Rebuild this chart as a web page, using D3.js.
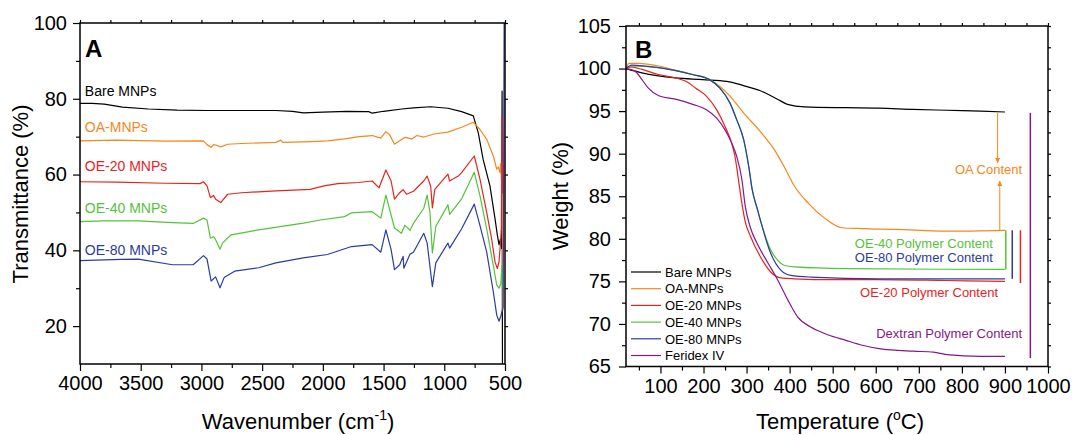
<!DOCTYPE html>
<html>
<head>
<meta charset="utf-8">
<script src="https://cdn.jsdelivr.net/npm/d3@7"></script>
<style>
body { margin: 0; background: #fff; }
text { font-family: "Liberation Sans", Arial, sans-serif; }
.tick line { stroke: #000; stroke-width: 1.2px; }
.domain { display: none; }
</style>
</head>
<body>
<script>
// ---- data: FTIR (wavenumber cm-1, transmittance %) ----
var ftirBare = [[4000,78.8],[3900,78.8],[3800,78.6],[3650,77.8],[3436,77.3],[3200,77.0],[2954,76.9],[2700,76.9],[2387,76.9],[2250,76.7],[2161,76.3],[2000,76.5],[1800,76.7],[1650,76.6],[1622,76.6],[1594,76.2],[1500,76.7],[1350,77.3],[1254,77.6],[1112,77.9],[970,77.5],[857,76.6],[761,75.5],[720,71],[680,64],[624,57],[582,48.3],[563,44],[549,41.5],[537,43],[528,40.5],[524,82],[521,10]];
var ftirOA = [[4000,68.9],[3700,69.1],[3300,68.8],[2983,68.9],[2954,67.9],[2920,67.2],[2900,67.9],[2883,67.8],[2841,67.3],[2784,68.0],[2670,68.2],[2387,68.5],[2345,69.1],[2330,68.5],[2100,68.7],[1962,68.9],[1821,69.4],[1700,70.0],[1594,70.3],[1523,69.6],[1481,71.3],[1452,70.6],[1410,68.0],[1367,68.9],[1325,69.8],[1268,69.4],[1226,70.3],[1169,69.9],[1084,70.7],[970,71.2],[857,72.5],[761,73.8],[706,71.9],[651,69.3],[596,64.9],[568,61.4],[555,62],[541,60.5],[535,62.9],[527,57],[522,63],[518,24]];
var ftirOE20 = [[4000,58.1],[3700,58.0],[3300,57.7],[3011,57.6],[2983,58.1],[2954,57.0],[2926,53.9],[2900,54.5],[2883,53.5],[2841,52.6],[2784,54.8],[2670,55.2],[2387,55.7],[2104,56.1],[1990,57.0],[1877,57.6],[1707,57.9],[1594,58.3],[1537,56.5],[1481,61.2],[1438,58.3],[1410,53.5],[1367,55.2],[1339,56.0],[1311,54.8],[1254,55.6],[1169,58.3],[1141,59.6],[1112,56.9],[1098,51.2],[1078,56.1],[970,60.1],[956,58.3],[885,59.6],[857,60.5],[753,64.9],[706,58.8],[651,50],[610,43],[582,36.9],[563,35.2],[549,37],[535,43],[530,46],[524,75.4],[521,55]];
var ftirOE40 = [[4000,47.6],[3804,47.8],[3521,47.8],[3238,47.3],[3068,47.1],[2983,48.5],[2954,48.0],[2926,43.2],[2900,43.6],[2883,42.8],[2847,40.3],[2827,41.9],[2756,44.1],[2529,45.4],[2161,47.2],[2020,48.0],[1821,48.9],[1764,49.9],[1594,50.2],[1523,48.5],[1481,54.6],[1452,51.0],[1410,45.9],[1353,44.5],[1325,46.6],[1282,45.3],[1254,47.1],[1169,51.1],[1141,54.6],[1118,50.0],[1098,39.3],[1070,46.3],[970,52.0],[956,49.5],[857,53.6],[753,60.6],[706,54.4],[651,45.7],[596,36],[568,30.8],[549,30],[535,31.2],[525,36],[520,30]];
var ftirOE80 = [[4000,37.3],[3663,37.6],[3521,37.7],[3238,36.2],[3068,36.2],[2983,38.6],[2954,37.7],[2920,31.9],[2883,33.0],[2847,30.1],[2813,32.8],[2727,34.5],[2529,35.4],[2387,36.7],[2161,38.0],[1962,38.9],[1764,41.0],[1594,41.5],[1523,39.5],[1481,45.4],[1438,40.2],[1410,34.9],[1367,36.2],[1339,38.4],[1333,35.3],[1282,39.0],[1254,39.5],[1169,44.5],[1141,41.9],[1098,30.4],[1070,36.7],[970,41.9],[956,40.6],[857,45.7],[753,52.2],[706,46.5],[651,39.6],[596,29],[568,22.9],[549,21.3],[535,22.6],[515,25],[507,100]];

// ---- data: TGA (temperature C, weight %) ----
var tgaBare = [[20,100],[57,99.5],[135,98.9],[198,98.7],[254,98.5],[293,98.0],[332,97.4],[372,96.4],[395,95.8],[435,95.5],[529,95.4],[608,95.35],[687,95.2],[765,95.1],[844,95.0],[900,94.9]];
var tgaOA = [[20,100],[27,100.6],[49,100.6],[96,100.3],[135,99.8],[174,99.3],[214,98.7],[238,97.9],[261,96.8],[293,94.8],[332,92.6],[364,90.5],[387,88.5],[411,86.2],[443,84.2],[482,82.4],[521,81.3],[569,81.2],[647,81.1],[765,80.9],[900,81.0]];
var tgaOE20 = [[20,100],[33,100.2],[57,99.9],[96,99.3],[135,98.9],[159,98.5],[182,97.7],[206,96.8],[230,95.2],[250,93.2],[265,91.3],[273,89.7],[281,87.0],[289,84.2],[297,82.0],[309,80.3],[332,77.9],[356,76.1],[380,75.4],[411,75.3],[500,75.2],[600,75.2],[765,75.1],[900,75.0]];
var tgaOE40 = [[20,100],[33,100.3],[96,100.1],[174,99.3],[214,98.7],[238,97.7],[261,96.0],[277,94.0],[293,91.7],[305,88.5],[313,85.8],[325,83.5],[332,82.2],[356,78.7],[372,77.5],[387,76.9],[411,76.7],[529,76.5],[900,76.4]];
var tgaOE80 = [[20,100],[33,100.4],[96,100.1],[174,99.3],[214,98.7],[238,97.7],[261,96.0],[277,94.0],[293,91.7],[305,88.5],[313,85.8],[325,83.5],[332,82.2],[356,78.3],[380,76.3],[403,75.7],[450,75.5],[608,75.3],[900,75.3]];
var tgaFeridex = [[20,100],[41,99.7],[57,98.7],[72,97.7],[96,96.8],[135,96.4],[175,95.8],[206,95.2],[230,94.2],[250,92.8],[265,91.3],[277,89.7],[289,87.0],[297,83.8],[309,81.3],[324,79.5],[348,77.3],[372,75.2],[396,72.8],[419,70.8],[450,69.6],[490,68.7],[529,68.1],[569,67.5],[608,67.1],[687,66.8],[734,66.7],[765,66.4],[844,66.2],[900,66.2]];

var seriesNames = ["Bare MNPs", "OA-MNPs", "OE-20 MNPs", "OE-40 MNPs", "OE-80 MNPs", "Feridex IV"];
var seriesColors = ["#000000", "#f7861c", "#e8231f", "#55c23a", "#2b3c9f", "#86178b"];

// ticks
var wavenumberTicks = [4000, 3500, 3000, 2500, 2000, 1500, 1000, 500];
var wavenumberMinor = [3750, 3250, 2750, 2250, 1750, 1250, 750];
var transTicks = [20, 40, 60, 80, 100];
var transMinor = [30, 50, 70, 90];
var tempTicks = [100, 200, 300, 400, 500, 600, 700, 800, 900, 1000];
var tempMinor = [50, 150, 250, 350, 450, 550, 650, 750, 850, 950];
var weightTicks = [65, 70, 75, 80, 85, 90, 95, 100, 105];
var weightMinor = [67.5, 72.5, 77.5, 82.5, 87.5, 92.5, 97.5, 102.5];

var svg = d3.select("body").append("svg")
    .attr("width", 1072)
    .attr("height", 435);

var defs = svg.append("defs");
defs.append("marker")
    .attr("id", "arrowOA")
    .attr("viewBox", "0 0 10 10")
    .attr("refX", 10).attr("refY", 5)
    .attr("markerWidth", 5).attr("markerHeight", 6)
    .attr("markerUnits", "userSpaceOnUse")
    .attr("orient", "auto")
    .append("path")
    .attr("d", "M0,0L10,5L0,10Z")
    .attr("fill", seriesColors[1]);

// draws axes + frame for one panel
function drawAxes(x, y, xt, xm, yt, ym, yPad) {
    var r = x.range(), t = y.range();
    var g = svg.append("g");
    g.append("g").attr("class", "axis").attr("transform", "translate(0," + t[0] + ")")
        .call(d3.axisBottom(x).tickValues(xt).tickSize(7).tickPadding(5).tickFormat(d3.format("d")))
        .style("font-size", "20px");
    g.append("g").attr("class", "axis").attr("transform", "translate(0," + t[0] + ")")
        .call(d3.axisBottom(x).tickValues(xm).tickSize(4).tickFormat(""));
    g.append("g").attr("class", "axis").attr("transform", "translate(" + r[0] + ",0)")
        .call(d3.axisLeft(y).tickValues(yt).tickSize(7).tickPadding(yPad).tickFormat(d3.format("d")))
        .style("font-size", "20px");
    g.append("g").attr("class", "axis").attr("transform", "translate(" + r[0] + ",0)")
        .call(d3.axisLeft(y).tickValues(ym).tickSize(4).tickFormat(""));
    // mirrored ticks on top and right
    g.append("g").attr("class", "axis").attr("transform", "translate(0," + t[1] + ")")
        .call(d3.axisTop(x).tickValues(xt.concat(xm)).tickSize(3).tickFormat(""));
    g.append("g").attr("class", "axis").attr("transform", "translate(" + r[1] + ",0)")
        .call(d3.axisRight(y).tickValues(yt.concat(ym)).tickSize(3).tickFormat(""));
    g.selectAll(".tick text").attr("fill", "#000");
    g.append("rect")
        .attr("x", r[0]).attr("y", t[1])
        .attr("width", r[1] - r[0]).attr("height", t[0] - t[1])
        .attr("fill", "none").attr("stroke", "#000").attr("stroke-width", 1.5);
}

// ================= Panel A: FTIR =================
var xA = d3.scaleLinear().domain([4000, 500]).range([80, 505]);
var yA = d3.scaleLinear().domain([10, 100]).range([364, 23]);

var ftirSeries = [ftirBare, ftirOA, ftirOE20, ftirOE40, ftirOE80];
var lineA = d3.line().x(function(d) { return xA(d[0]); }).y(function(d) { return yA(d[1]); });

svg.append("defs").append("clipPath").attr("id", "clipA")
    .append("rect").attr("x", 80).attr("y", 23).attr("width", 425).attr("height", 341);

svg.append("g").attr("clip-path", "url(#clipA)")
    .selectAll("path")
    .data(ftirSeries)
    .enter()
    .append("path")
    .attr("d", lineA)
    .attr("fill", "none")
    .attr("stroke", function(d, i) { return seriesColors[i]; })
    .attr("stroke-width", 1.2)
    .attr("stroke-linejoin", "round");

drawAxes(xA, yA, wavenumberTicks, wavenumberMinor, transTicks, transMinor, 6);

// curve labels in panel A (y in data units)
var ftirLabelY = [82, 72.5, 62.3, 51.1, 40.2];
svg.append("g").selectAll("text")
    .data(ftirLabelY)
    .enter()
    .append("text")
    .attr("x", xA(3960))
    .attr("y", function(d) { return yA(d) + 5; })
    .attr("fill", function(d, i) { return seriesColors[i]; })
    .style("font-size", "14px")
    .text(function(d, i) { return seriesNames[i]; });

svg.append("text").attr("x", 85).attr("y", 57)
    .style("font-size", "24px").style("font-weight", "bold").text("A");

svg.append("text")
    .attr("transform", "translate(28,194)rotate(-90)")
    .attr("text-anchor", "middle")
    .style("font-size", "22px")
    .text("Transmittance (%)");

var xtA = svg.append("text").attr("x", 298).attr("y", 429)
    .attr("text-anchor", "middle").style("font-size", "22px");
xtA.append("tspan").text("Wavenumber (cm");
xtA.append("tspan").attr("dy", -9).style("font-size", "14px").text("-1");
xtA.append("tspan").attr("dy", 9).text(")");

// ================= Panel B: TGA =================
var xB = d3.scaleLinear().domain([20, 1000]).range([626, 1048]);
var yB = d3.scaleLinear().domain([65, 105]).range([366.5, 26]);

var tgaSeries = [tgaBare, tgaOA, tgaOE20, tgaOE40, tgaOE80, tgaFeridex];
var lineB = d3.line().curve(d3.curveMonotoneX)
    .x(function(d) { return xB(d[0]); }).y(function(d) { return yB(d[1]); });

svg.append("g")
    .selectAll("path")
    .data(tgaSeries)
    .enter()
    .append("path")
    .attr("d", lineB)
    .attr("fill", "none")
    .attr("stroke", function(d, i) { return seriesColors[i]; })
    .attr("stroke-width", 1.2);

drawAxes(xB, yB, tempTicks, tempMinor, weightTicks, weightMinor, 8);

// content bars / arrows (temperature, weight from, weight to)
var contentBars = [[902, 81, 76.4, 3], [917, 81, 75.3, 4], [936, 81, 74.8, 2], [959, 94.8, 66.0, 5]];
svg.append("g").selectAll("line")
    .data(contentBars)
    .enter()
    .append("line")
    .attr("x1", function(d) { return xB(d[0]); })
    .attr("x2", function(d) { return xB(d[0]); })
    .attr("y1", function(d) { return yB(d[1]); })
    .attr("y2", function(d) { return yB(d[2]); })
    .attr("stroke", function(d) { return seriesColors[d[3]]; })
    .attr("stroke-width", 1.5);

var oaArrows = [[883, 94.8, 88.9], [888, 81.0, 86.8]];
svg.append("g").selectAll("line")
    .data(oaArrows)
    .enter()
    .append("line")
    .attr("x1", function(d) { return xB(d[0]); })
    .attr("x2", function(d) { return xB(d[0]); })
    .attr("y1", function(d) { return yB(d[1]); })
    .attr("y2", function(d) { return yB(d[2]); })
    .attr("stroke", seriesColors[1])
    .attr("stroke-width", 1)
    .attr("marker-end", "url(#arrowOA)");

// annotation texts (right edge temperature, baseline weight)
var annoText = ["OA Content", "OE-40 Polymer Content", "OE-80 Polymer Content", "OE-20 Polymer Content", "Dextran Polymer Content"];
var annoPos = [[940, 87.6, 1], [872, 78.9, 3], [872, 77.3, 4], [884, 73.2, 2], [940, 68.3, 5]];
svg.append("g").selectAll("text")
    .data(annoPos)
    .enter()
    .append("text")
    .attr("x", function(d) { return xB(d[0]); })
    .attr("y", function(d) { return yB(d[1]); })
    .attr("text-anchor", "end")
    .attr("fill", function(d) { return seriesColors[d[2]]; })
    .style("font-size", "13px")
    .text(function(d, i) { return annoText[i]; });

// legend
var legend = svg.append("g").attr("transform", "translate(631,272)");
var rows = legend.selectAll("g")
    .data(seriesNames)
    .enter()
    .append("g")
    .attr("transform", function(d, i) { return "translate(0," + (i * 16.7) + ")"; });
rows.append("line")
    .attr("x1", 0).attr("x2", 30)
    .attr("stroke", function(d, i) { return seriesColors[i]; })
    .attr("stroke-width", 1.2);
rows.append("text")
    .attr("x", 34).attr("y", 4.7)
    .style("font-size", "13px")
    .text(function(d) { return d; });

svg.append("text").attr("x", 635).attr("y", 58)
    .style("font-size", "24px").style("font-weight", "bold").text("B");

svg.append("text")
    .attr("transform", "translate(568,196)rotate(-90)")
    .attr("text-anchor", "middle")
    .style("font-size", "22px")
    .text("Weight (%)");

var xtB = svg.append("text").attr("x", 840).attr("y", 429)
    .attr("text-anchor", "middle").style("font-size", "22px");
xtB.append("tspan").text("Temperature (");
xtB.append("tspan").attr("dy", -9).style("font-size", "14px").text("o");
xtB.append("tspan").attr("dy", 9).text("C)");
</script>
</body>
</html>
